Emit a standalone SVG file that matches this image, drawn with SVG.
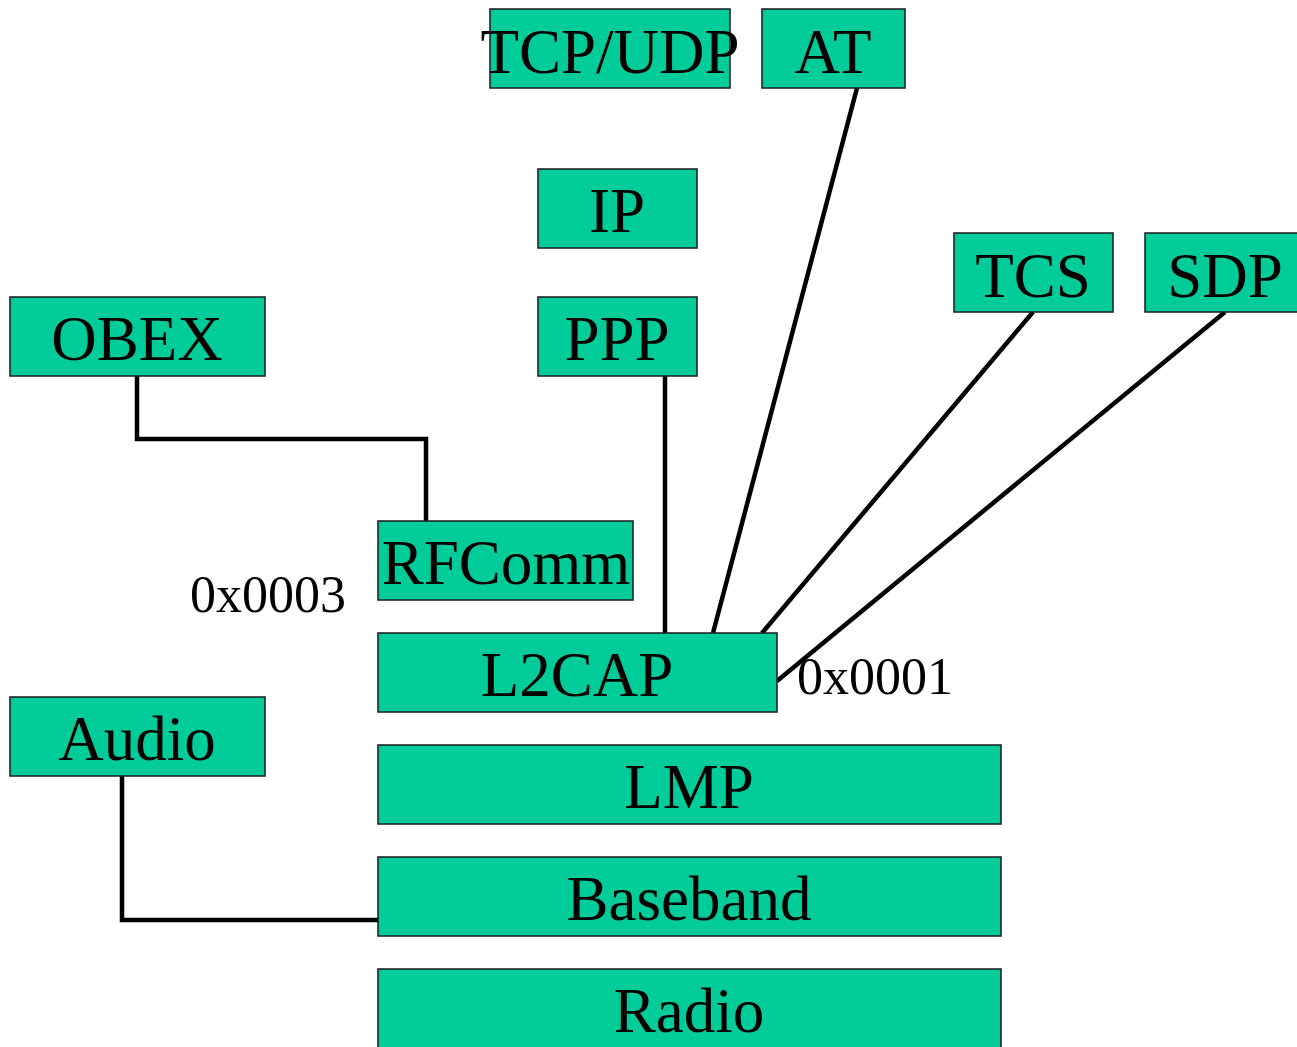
<svg xmlns="http://www.w3.org/2000/svg" width="1297" height="1047" viewBox="0 0 1297 1047">
<style>
.box{fill:#00CC99;stroke:#1a1a1a;stroke-width:1.5}
.t{font-family:"Liberation Serif","Times New Roman",serif;font-size:63px;fill:#000;text-anchor:middle}
.lbl{font-family:"Liberation Serif","Times New Roman",serif;font-size:52px;fill:#000}
.c{stroke:#000;stroke-width:4.5;fill:none}
</style>
<rect width="1297" height="1047" fill="#fff"/>
<g id="connectors">
<polyline class="c" points="137,376 137,439 426,439 426,521"/>
<line class="c" x1="665" y1="376" x2="665" y2="633"/>
<line class="c" x1="857" y1="88" x2="713" y2="633"/>
<line class="c" x1="1033" y1="312" x2="762" y2="633"/>
<line class="c" x1="1225" y1="312" x2="777" y2="681"/>
<polyline class="c" points="122,776 122,920 378,920"/>
</g>
<g id="tcpudp"><rect class="box" x="490" y="9" width="240" height="79"/><text class="t" x="610" y="73">TCP/UDP</text></g>
<g id="at"><rect class="box" x="762" y="9" width="143" height="79"/><text class="t" x="833" y="73">AT</text></g>
<g id="ip"><rect class="box" x="538" y="169" width="159" height="79"/><text class="t" x="617" y="232">IP</text></g>
<g id="tcs"><rect class="box" x="954" y="233" width="159" height="79"/><text class="t" x="1033" y="297">TCS</text></g>
<g id="sdp"><rect class="box" x="1145" y="233" width="155" height="79"/><text class="t" x="1225" y="297">SDP</text></g>
<g id="obex"><rect class="box" x="10" y="297" width="255" height="79"/><text class="t" x="137" y="360">OBEX</text></g>
<g id="ppp"><rect class="box" x="538" y="297" width="159" height="79"/><text class="t" x="617" y="360">PPP</text></g>
<g id="rfcomm"><rect class="box" x="378" y="521" width="255" height="79"/><text class="t" x="506" y="584">RFComm</text></g>
<g id="l2cap"><rect class="box" x="378" y="633" width="399" height="79"/><text class="t" x="577" y="696">L2CAP</text></g>
<g id="audio"><rect class="box" x="10" y="697" width="255" height="79"/><text class="t" x="137" y="760">Audio</text></g>
<g id="lmp"><rect class="box" x="378" y="745" width="623" height="79"/><text class="t" x="689" y="808">LMP</text></g>
<g id="baseband"><rect class="box" x="378" y="857" width="623" height="79"/><text class="t" x="689" y="920">Baseband</text></g>
<g id="radio"><rect class="box" x="378" y="969" width="623" height="85"/><text class="t" x="689" y="1032">Radio</text></g>
<text class="lbl" x="190" y="612">0x0003</text>
<text class="lbl" x="797" y="694">0x0001</text>
</svg>
